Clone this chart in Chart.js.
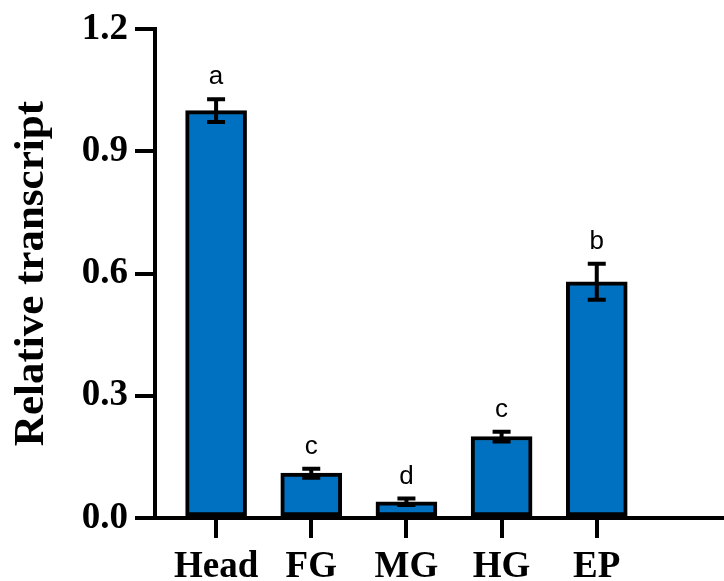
<!DOCTYPE html>
<html>
<head>
<meta charset="utf-8">
<script src="https://cdn.jsdelivr.net/npm/chart.js@4.4.1/dist/chart.umd.min.js"></script>
<style>
    html, body { margin: 0; padding: 0; background: #ffffff; }
    #wrap { width: 724px; height: 581px; }
</style>
</head>
<body>
<div id="wrap"><canvas id="chart"></canvas></div>
<script>
// Transcrição relativa por tecido
const categories = ['Head', 'FG', 'MG', 'HG', 'EP'];
const values = [1.0, 0.11, 0.04, 0.2, 0.58];
const errors = [0.028, 0.011, 0.008, 0.012, 0.044];
const letters = ['a', 'c', 'd', 'c', 'b'];
const yTicks = [0, 0.3, 0.6, 0.9, 1.2];

const serifBold = { family: '"Liberation Serif", "Times New Roman", serif', size: 37, weight: 'bold' };

// Barras de erro + letras de significância
const errorBarPlugin = {
    id: 'errorBars',
    afterDatasetsDraw(chart) {
        const ctx = chart.ctx;
        const xs = chart.scales.x;
        const ys = chart.scales.y;
        ctx.save();
        ctx.strokeStyle = '#000000';
        ctx.lineWidth = 4;
        values.forEach((v, i) => {
            const x = xs.getPixelForValue(i);
            const top = ys.getPixelForValue(v + errors[i]);
            const bot = ys.getPixelForValue(v - errors[i]);
            const cap = 9;
            ctx.beginPath();
            ctx.moveTo(x, top);
            ctx.lineTo(x, bot);
            ctx.moveTo(x - cap, top);
            ctx.lineTo(x + cap, top);
            ctx.moveTo(x - cap, bot);
            ctx.lineTo(x + cap, bot);
            ctx.stroke();

            ctx.fillStyle = '#000000';
            ctx.font = '26px "Liberation Sans", Arial, sans-serif';
            ctx.textAlign = 'center';
            ctx.textBaseline = 'middle';
            ctx.fillText(letters[i], x, top - 22);
        });
        ctx.restore();
    }
};

const ctx = document.getElementById('chart');
new Chart(ctx, {
    type: 'bar',
    data: {
        datasets: [{
            data: values.map((v, i) => ({ x: i, y: v })),
            backgroundColor: '#0070c0',
            borderColor: '#000000',
            borderWidth: 4,
            borderSkipped: false,
            barThickness: 61
        }]
    },
    options: {
        responsive: true,
        maintainAspectRatio: false,
        animation: false,
        layout: {
            padding: { top: 28, right: 0, left: 0, bottom: 0 }
        },
        plugins: {
            legend: { display: false },
            tooltip: { enabled: false }
        },
        scales: {
            x: {
                type: 'linear',
                offset: false,
                min: -0.642,
                max: 5.337,
                afterBuildTicks: (scale) => {
                    scale.ticks = categories.map((c, i) => ({ value: i }));
                },
                afterFit: (scale) => {
                    scale.height = 63;
                },
                ticks: {
                    color: '#000000',
                    font: serifBold,
                    padding: 7,
                    autoSkip: false,
                    maxRotation: 0,
                    callback: (value) => categories[value]
                },
                grid: {
                    offset: false,
                    drawOnChartArea: false,
                    drawTicks: true,
                    tickLength: 20,
                    lineWidth: 4,
                    color: '#000000'
                },
                border: { display: true, width: 4, color: '#000000' }
            },
            y: {
                min: 0,
                max: 1.2,
                afterBuildTicks: (scale) => {
                    scale.ticks = yTicks.map(v => ({ value: v }));
                },
                afterFit: (scale) => {
                    scale.width = 155;
                },
                ticks: {
                    color: '#000000',
                    font: serifBold,
                    padding: 7,
                    callback: (value) => value.toFixed(1)
                },
                grid: {
                    drawOnChartArea: false,
                    drawTicks: true,
                    tickLength: 20,
                    lineWidth: 4,
                    color: '#000000'
                },
                border: { display: true, width: 4, color: '#000000' },
                title: {
                    display: true,
                    text: 'Relative transcript',
                    color: '#000000',
                    font: { family: '"Liberation Serif", "Times New Roman", serif', size: 43, weight: 'bold' },
                    padding: { top: 6, bottom: 0 }
                }
            }
        }
    },
    plugins: [errorBarPlugin]
});
</script>
</body>
</html>
